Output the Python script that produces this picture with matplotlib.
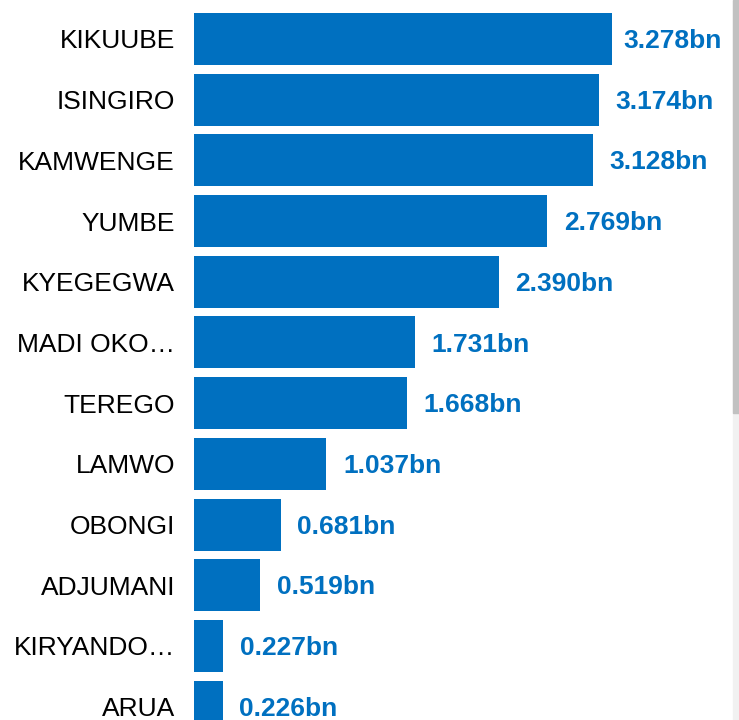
import matplotlib
matplotlib.use("Agg")
import matplotlib.pyplot as plt
from matplotlib.patches import Rectangle

districts = ["KIKUUBE", "ISINGIRO", "KAMWENGE", "YUMBE", "KYEGEGWA", "MADI OKO…",
             "TEREGO", "LAMWO", "OBONGI", "ADJUMANI", "KIRYANDO…", "ARUA"]
values_bn = [3.278, 3.174, 3.128, 2.769, 2.390, 1.731, 1.668, 1.037, 0.681, 0.519, 0.227, 0.226]

bar_color = "#0070c0"

plt.rcParams["font.family"] = ["Liberation Sans", "DejaVu Sans"]

fig = plt.figure(figsize=(7.39, 7.2), dpi=100)
ax = fig.add_axes([194 / 739, 0, (733 - 194) / 739, 1])

pos = list(range(len(districts)))
ax.barh(pos, values_bn, height=0.857, color=bar_color)

ax.set_xlim(0, (733 - 194) / 127.5)
ax.set_ylim(11.22, -0.642)
ax.set_yticks(pos)
ax.set_yticklabels(districts, fontsize=19)
ax.tick_params(axis="y", length=0, pad=13.7)
ax.set_xticks([])
for s in ax.spines.values():
    s.set_visible(False)

labels = []
for p, v in zip(pos, values_bn):
    t = ax.annotate(f"{v:.3f}bn", (v, p), xytext=(12, -1.5), textcoords="offset points",
                    ha="left", va="center", color=bar_color, fontsize=19, fontweight="bold")
    labels.append(t)

# keep value labels inside the plot area (right limit ~722px)
fig.canvas.draw()
r = fig.canvas.get_renderer()
for t in labels:
    bb = t.get_window_extent(r)
    over = bb.x1 - 722
    if over > 0:
        ox, oy = t.xyann
        t.xyann = (ox - over * 72 / fig.dpi, oy)

# scrollbar strip on the right edge
fig.patches.append(Rectangle((733 / 739, 0), 6 / 739, 1, transform=fig.transFigure,
                             color="#f1f1f1", zorder=0))
fig.patches.append(Rectangle((733 / 739, 1 - 413 / 720), 6 / 739, 413 / 720,
                             transform=fig.transFigure, color="#c1c1c1", zorder=1))

fig.savefig("out.png", dpi=100)
plt.close(fig)
